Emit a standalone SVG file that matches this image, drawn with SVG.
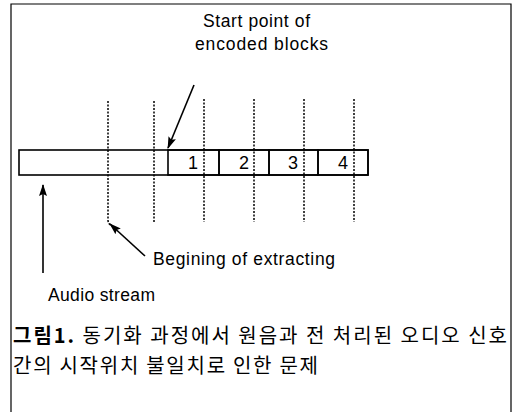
<svg xmlns="http://www.w3.org/2000/svg" width="514" height="412" viewBox="0 0 514 412">
<defs>
<style>
.lbl{font-family:"Liberation Sans",Arial,sans-serif;font-size:17.5px;fill:#000}
.num{font-family:"Liberation Sans",Arial,sans-serif;font-size:18px;fill:#000;text-anchor:middle}
.kr{font-family:"Noto Sans CJK KR",sans-serif;font-size:20px;fill:#000}
.dash{stroke:#000;stroke-width:1.5;stroke-dasharray:2 1.5;fill:none}
.ln{stroke:#000;stroke-width:1.6;fill:none}
.box{stroke:#000;stroke-width:1.6;fill:none}
</style>
<marker id="ah" markerWidth="12" markerHeight="10" refX="11" refY="5" orient="auto" markerUnits="userSpaceOnUse">
<path d="M0,1 L12,5 L0,9 L2,5 Z" fill="#000"/>
</marker>
</defs>
<rect width="514" height="412" fill="#fff"/>
<g id="frame">
<path d="M11,412 V4 H511 V412" stroke="#000" stroke-width="1.2" fill="none"/>
</g>
<g id="audio-stream">
<rect class="box" x="19" y="150" width="349" height="25"/>
</g>
<g id="block-1">
<rect class="box" x="168" y="150" width="51" height="25"/>
<text class="num" x="193" y="169">1</text>
</g>
<g id="block-2">
<rect class="box" x="219" y="150" width="50" height="25"/>
<text class="num" x="244" y="169">2</text>
</g>
<g id="block-3">
<rect class="box" x="269" y="150" width="49" height="25"/>
<text class="num" x="293" y="169">3</text>
</g>
<g id="block-4">
<rect class="box" x="318" y="150" width="50" height="25"/>
<text class="num" x="343" y="169">4</text>
</g>
<g id="connectors">
<path class="dash" d="M108,101 V220 Q108,224 111,225"/>
<path class="dash" d="M154,101 V222"/>
<path class="dash" d="M204,99 V222"/>
<path class="dash" d="M254,99 V222"/>
<path class="dash" d="M304,99 V222"/>
<path class="dash" d="M354,99 V222"/>
<line class="ln" x1="194" y1="85" x2="168" y2="148" marker-end="url(#ah)"/>
<line class="ln" x1="145" y1="256" x2="110" y2="224" marker-end="url(#ah)"/>
<line class="ln" x1="43" y1="273" x2="43" y2="185" marker-end="url(#ah)"/>
</g>
<g id="label-start">
<text class="lbl" x="203" y="27" textLength="107" lengthAdjust="spacing">Start point of</text>
<text class="lbl" x="195" y="50" textLength="133" lengthAdjust="spacing">encoded blocks</text>
</g>
<g id="label-begin">
<text class="lbl" x="153" y="265" textLength="182" lengthAdjust="spacing">Begining of extracting</text>
</g>
<g id="label-audio">
<text class="lbl" x="48" y="301" textLength="107" lengthAdjust="spacing">Audio stream</text>
</g>
<g id="caption">
<text class="kr" x="13" y="343" textLength="494" lengthAdjust="spacing"><tspan font-weight="bold">그림1.</tspan> 동기화 과정에서 원음과 전 처리된 오디오 신호</text>
<text class="kr" x="13" y="373" textLength="305" lengthAdjust="spacing">간의 시작위치 불일치로 인한 문제</text>
</g>
</svg>
